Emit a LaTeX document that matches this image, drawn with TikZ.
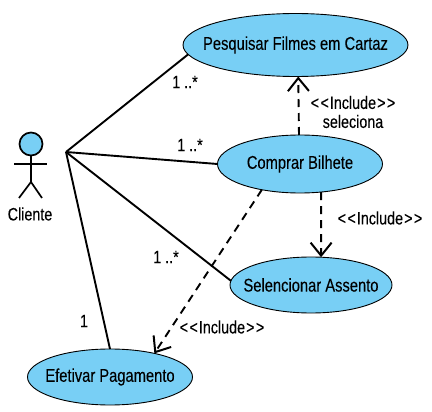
\documentclass[tikz,border=0pt]{standalone}
\usepackage{fontspec}
\setmainfont[FakeStretch=0.8,FakeBold=0.12]{Liberation Sans}
\usetikzlibrary{shapes.geometric,arrows.meta}
\definecolor{uc}{HTML}{78CFF5}
\newcommand{\uctext}[1]{\makebox[0pt]{\raisebox{-1pt}{#1}}}
\newcommand{\incltext}{<\kern1.5pt<\kern1pt Include\kern1pt>\kern1.5pt>}
\tikzset{
  usecase/.style={ellipse,draw=black,line width=0.9pt,fill=uc,inner sep=0pt,outer sep=0pt,font=\fontsize{18.4}{20}\selectfont},
  assoc/.style={line width=1.9pt,line cap=butt},
  incl/.style={line width=1.9pt,dash pattern=on 8pt off 6pt,-{Straight Barb[length=13pt,width=21pt,line width=2pt]}},
  lab/.style={inner sep=0pt,font=\fontsize{17.9}{19}\selectfont,align=center},
  actorline/.style={line width=1.7pt}
}
\begin{document}
\begin{tikzpicture}[x=1pt,y=-1pt]
\useasboundingbox (0,0) rectangle (432,412);
\node[usecase,minimum width=225pt,minimum height=63pt] (pesq) at (295.5,45) {\uctext{Pesquisar Filmes em Cartaz}};
\node[usecase,minimum width=165pt,minimum height=58pt] (buy) at (300,164) {\uctext{Comprar Bilhete}};
\node[usecase,minimum width=162pt,minimum height=56pt] (sel) at (311,285) {\uctext{Selencionar Assento}};
\node[usecase,minimum width=165pt,minimum height=56pt] (eff) at (110,377) {\uctext{Efetivar Pagamento}};
\coordinate (hub) at (66,152);
\draw[assoc] (hub) -- (pesq.185);
\draw[assoc] (hub) -- (buy.180);
\draw[assoc] (hub) -- (sel.177);
\draw[assoc] (hub) -- (eff.north);
\draw[incl] (buy.92) -- (pesq.-85.5);
\draw[incl] (buy.-53) -- (sel.70);
\draw[incl] (buy.214) -- (eff.28);
% actor
\node[circle,draw=black,line width=1.7pt,fill=uc,minimum size=23pt,inner sep=0pt,outer sep=0pt] (head) at (31,144) {};
\coordinate (hip) at (31,182);
\coordinate (armL) at (14,164);
\coordinate (armR) at (47,164);
\coordinate (legL) at (19,198);
\coordinate (legR) at (42,198);
\draw[actorline] (head.south) -- (hip);
\draw[actorline] (armL) -- (armR);
\draw[actorline] (legL) -- (hip) -- (legR);
\node[lab] (cli) at (30,214) {Cliente};
\node[lab] (m1) at (185,82) {1 ..*};
\node[lab] (m2) at (190,145) {1 ..*};
\node[lab] (m3) at (166,257) {1 ..*};
\node[lab] (m4) at (84,321) {1};
\node[lab] (i1) at (353,112) {\incltext\\seleciona};
\node[lab] (i2) at (380,218) {\incltext};
\node[lab] (i3) at (222,327) {\incltext};
\end{tikzpicture}
\end{document}
